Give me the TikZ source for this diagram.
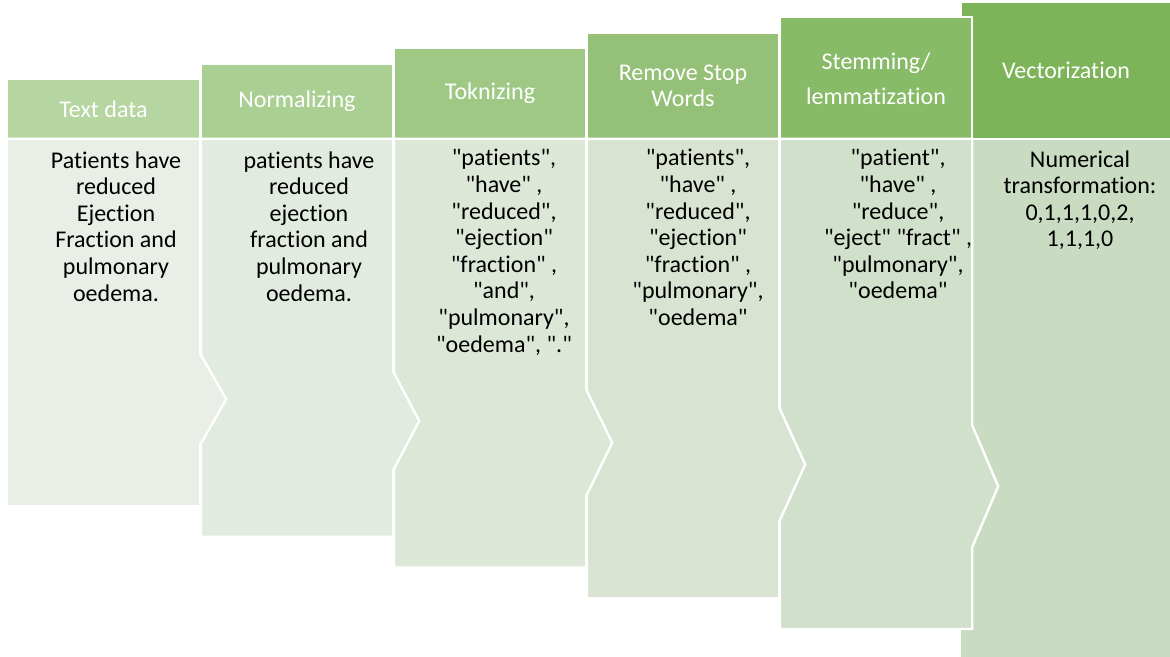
\documentclass[tikz,border=0pt]{standalone}
\usepackage{fontspec}
\setmainfont{Carlito}[Ligatures={CommonOff,TeXOff}]

% header and body fills, light to dark
\definecolor{headA}{RGB}{182,214,161}
\definecolor{headB}{RGB}{170,207,146}
\definecolor{headC}{RGB}{159,200,133}
\definecolor{headD}{RGB}{148,193,119}
\definecolor{headE}{RGB}{136,187,104}
\definecolor{headF}{RGB}{125,180,90}
\definecolor{bodyA}{RGB}{233,238,230}
\definecolor{bodyB}{RGB}{226,235,223}
\definecolor{bodyC}{RGB}{221,231,216}
\definecolor{bodyD}{RGB}{216,228,209}
\definecolor{bodyE}{RGB}{209,224,202}
\definecolor{bodyF}{RGB}{201,219,193}

\begin{document}
\begin{tikzpicture}[x=0.5pt, y=-0.5pt,
    panel/.style={draw=white, line width=1.2pt},
    headtext/.style={text=white, align=center, font=\fontsize{12}{13}\selectfont},
    bodytext/.style={text=black, align=center, anchor=north, inner sep=0pt,
        font=\fontsize{12}{13.3}\selectfont}]
    \useasboundingbox (0,0) rectangle (1170,657);

    % Vectorization (drawn first, the others overlap it)
    \fill[headF, panel] (960.8,1.8) rectangle (1171,139.2);
    \fill[bodyF, panel] (959.8,138.8) rectangle (1171,658);

    % Stemming / lemmatization
    \fill[headE, panel] (779.8,17.2) rectangle (972.2,139.2);
    \fill[bodyE, panel] (779.8,138.8) -- (972.2,138.8) -- (972.2,425.3) -- (998.2,486.3)
        -- (972.2,547.3) -- (972.2,629) -- (779.8,629) -- cycle;

    % Remove stop words
    \fill[headD, panel] (586.8,32.6) rectangle (779.2,139.2);
    \fill[bodyD, panel] (586.8,138.8) -- (779.2,138.8) -- (779.2,407.4) -- (805.2,464.5)
        -- (779.2,521.6) -- (779.2,598.3) -- (586.8,598.3) -- cycle;

    % Toknizing
    \fill[headC, panel] (393.8,48) rectangle (586.2,139.2);
    \fill[bodyC, panel] (393.8,138.8) -- (586.2,138.8) -- (586.2,389.4) -- (612.2,442.7)
        -- (586.2,496) -- (586.2,567.6) -- (393.8,567.6) -- cycle;

    % Normalizing
    \fill[headB, panel] (200.8,63.4) rectangle (393.2,139.2);
    \fill[bodyB, panel] (200.8,138.8) -- (393.2,138.8) -- (393.2,371.4) -- (419.2,420.9)
        -- (393.2,470.4) -- (393.2,536.9) -- (200.8,536.9) -- cycle;

    % Text data
    \fill[headA, panel] (6.8,78.8) rectangle (200.2,139.2);
    \fill[bodyA, panel] (6.8,138.8) -- (200.2,138.8) -- (200.2,353.6) -- (226.2,399.2)
        -- (200.2,444.8) -- (200.2,506.2) -- (6.8,506.2) -- cycle;

    % Step titles
    \node[headtext] (hText) at (103.5,109) {Text data};
    \node[headtext] (hNorm) at (297,101) {Normalizing};
    \node[headtext] (hTok) at (490,93.5) {Toknizing};
    \node[headtext] (hStop) at (683,86) {Remove Stop\\Words};
    \node[headtext] (hStem) at (876,79) {Stemming/\\[4.5pt]lemmatization};
    \node[headtext] (hVec) at (1066,70.5) {Vectorization};

    % Step contents
    \node[bodytext] (bText) at (116,151) {Patients have\\reduced\\Ejection\\Fraction and\\pulmonary\\oedema.};
    \node[bodytext] (bNorm) at (309,151) {patients have\\reduced\\ejection\\fraction and\\pulmonary\\oedema.};
    \node[bodytext] (bTok) at (504,149) {"patients",\\"have" ,\\"reduced",\\"ejection"\\"fraction" ,\\"and",\\"pulmonary",\\"oedema", "."};
    \node[bodytext] (bStop) at (698,149) {"patients",\\"have" ,\\"reduced",\\"ejection"\\"fraction" ,\\"pulmonary",\\"oedema"};
    \node[bodytext] (bStem) at (898,149) {"patient",\\"have" ,\\"reduce",\\"eject" "fract" ,\\"pulmonary",\\"oedema"};
    \node[bodytext] (bVec) at (1080,150) {Numerical\\transformation:\\0,1,1,1,0,2,\\1,1,1,0};
\end{tikzpicture}
\end{document}
